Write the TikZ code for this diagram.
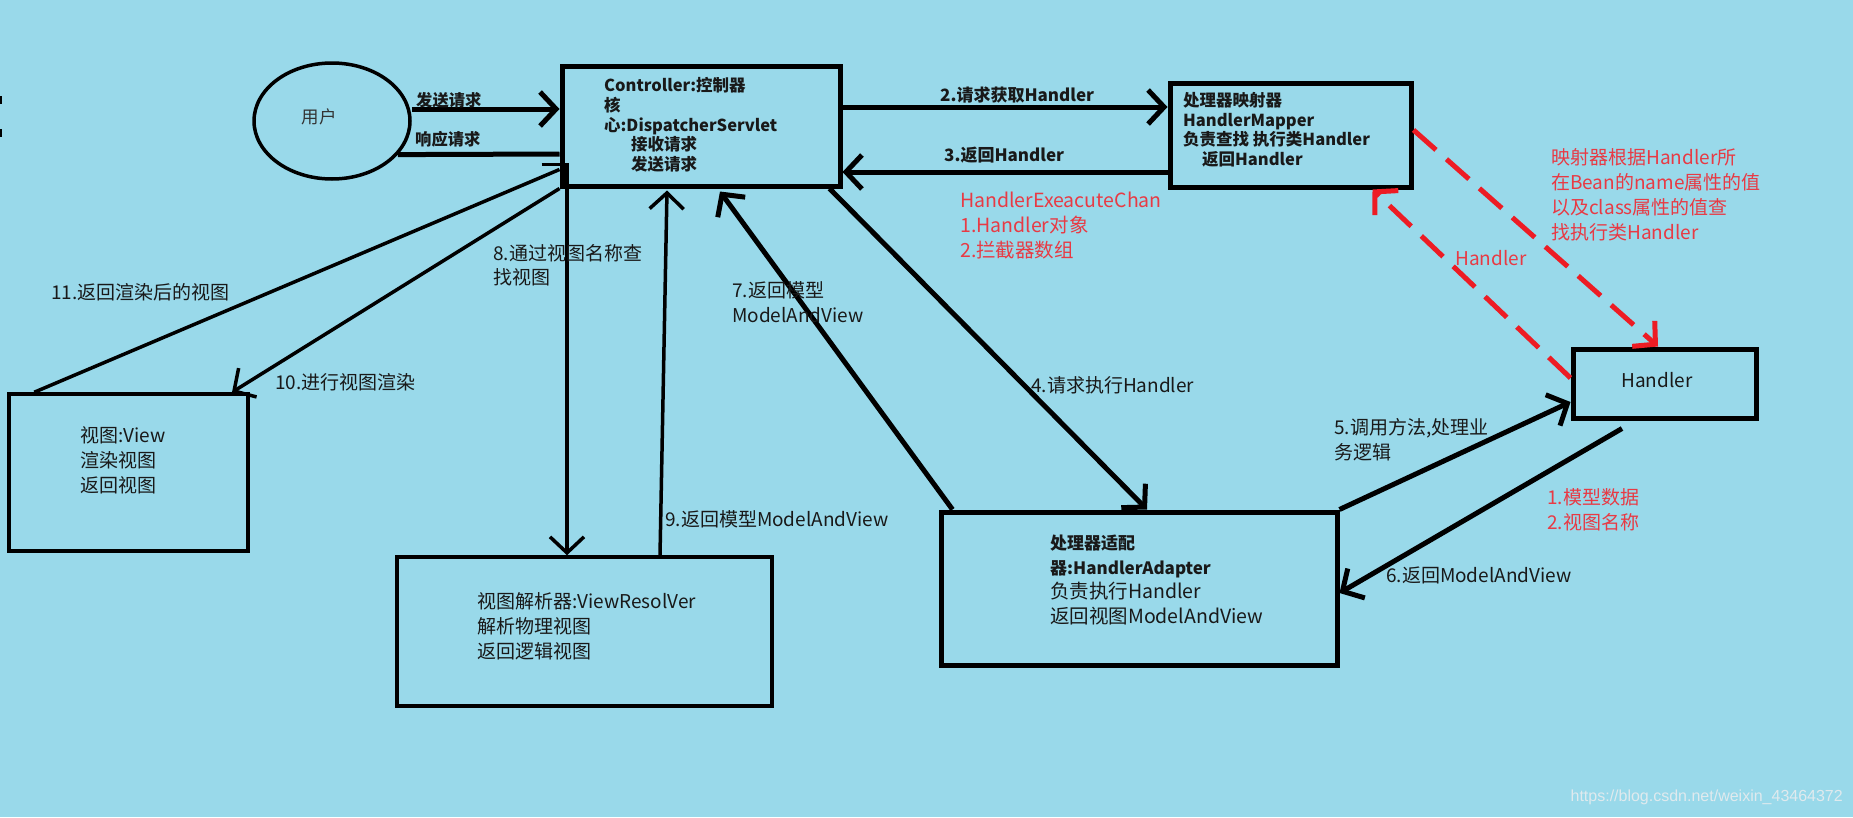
\documentclass[tikz,border=0pt]{standalone}
\usepackage{fontspec}
\setmainfont{Noto Sans CJK SC}
\newfontfamily\wmfont{Liberation Sans}
\usetikzlibrary{shapes.geometric,arrows.meta}
\definecolor{paintblue}{RGB}{153,217,234}
\definecolor{paintred}{RGB}{237,28,36}
\definecolor{notered}{RGB}{232,58,68}
\definecolor{ink}{RGB}{25,25,25}
\definecolor{wmgray}{RGB}{224,234,238}
\newcommand{\reg}{\fontsize{19}{25}\selectfont}
\newcommand{\bld}{\fontsize{16.5}{19.8}\selectfont\bfseries}

\begin{document}
\begin{tikzpicture}[x=1pt, y=-1pt, >={Straight Barb[length=16pt,width=34pt]},
    box/.style={draw, rectangle, inner sep=0pt, line width=#1},
    heavy/.style={line width=5pt},
    light/.style={line width=3.5pt},
    redline/.style={line width=5pt, draw=paintred, dash pattern=on 30pt off 14pt},
    txt/.style={inner sep=0pt, align=left, anchor=north west, text=ink, font=\reg},
    lbl/.style={inner sep=0pt, anchor=west, text=ink, font=\reg}]
    \fill [paintblue] (0,0) rectangle (1853,817) ;
    \useasboundingbox (0,0) rectangle (1853,817) ;
    \fill (0,96) rectangle (2,104) ;
    \fill (0,129) rectangle (2,137) ;

    \node (user) [ellipse, draw, line width=3.5pt, minimum width=156pt, minimum height=116pt, inner sep=0pt] at (332,121) {} ;
    \node (ctrl) [box=5pt, minimum width=278pt, minimum height=120pt] at (701,126) {} ;
    \node (mapper) [box=5pt, minimum width=241pt, minimum height=104pt] at (1290.5,135) {} ;
    \node (handler) [box=5pt, minimum width=183pt, minimum height=69pt] at (1664.5,383.5) {} ;
    \node (adapter) [box=5pt, minimum width=396pt, minimum height=153pt] at (1139,588.5) {} ;
    \node (view) [box=3.5pt, minimum width=239pt, minimum height=157pt] at (128.5,472.5) {} ;
    \node (resolver) [box=3.5pt, minimum width=375pt, minimum height=149pt] at (584.5,631.5) {} ;

    \draw [heavy, ->] ([yshift=12pt]user.east) -- ([yshift=17pt]ctrl.west) ;
    \draw [heavy] (user.-27) -- ([yshift=-28pt]ctrl.west) ;
    \draw [heavy, ->] ([yshift=19pt]ctrl.east) -- ([yshift=28pt]mapper.west) ;
    \draw [heavy, ->] ([yshift=-37pt]mapper.west) -- ([yshift=-46pt]ctrl.east) ;
    \draw [heavy, ->] ([xshift=-13pt]ctrl.south east) -- ([xshift=8pt]adapter.north) ;
    \draw [heavy, ->] (adapter.north east) -- ([yshift=-18.5pt]handler.west) ;
    \draw [heavy, ->] ([xshift=-42.5pt,yshift=-8pt]handler.south) -- ([yshift=-4.5pt]adapter.east) ;
    \draw [heavy, ->] ([xshift=14pt]adapter.north west) -- ([xshift=19pt,yshift=-3pt]ctrl.south) ;
    \draw [light, ->] ([xshift=-18pt,yshift=24pt]ctrl.south west) -| ([xshift=-17.5pt]resolver.north) ;
    \draw [light, ->] ([xshift=75.5pt]resolver.north) -- ([xshift=-34pt,yshift=-2pt]ctrl.south) ;
    \draw [light, ->] (ctrl.south west) -- ([xshift=103.5pt]view.north) ;
    \draw [light] ([xshift=27pt]view.north west) -- ([yshift=19pt]ctrl.south west) ;
    \draw [redline, ->] ([yshift=5pt]mapper.east) -- ([xshift=-6.5pt]handler.north) ;
    \draw [redline, ->] ([yshift=5.5pt]handler.west) -- ([xshift=-41pt]mapper.south east) ;

    \node (usertxt) [lbl, anchor=center, text=black!80, font=\fontsize{17.5}{20}\selectfont] at (319,117) {用户} ;
    \node (ctrltxt) [txt, font=\bld] at (604,77) {Controller:控制器\\核\\心:DispatcherServlet\\\hspace*{27pt}接收请求\\\hspace*{27pt}发送请求} ;
    \node (mappertxt) [txt, font=\bld] at (1183,92) {处理器映射器\\HandlerMapper\\负责查找 执行类Handler\\\hspace*{19pt}返回Handler} ;
    \node (handlertxt) [lbl, anchor=center] at (1657,380) {Handler} ;
    \node (adapterhd) [txt, font=\fontsize{17}{24.3}\selectfont\bfseries] at (1050,535) {处理器适配\\器:HandlerAdapter} ;
    \node (adaptertxt) [txt, font=\fontsize{19.5}{24.5}\selectfont] at (1050,582) {负责执行Handler\\返回视图ModelAndView} ;
    \node (viewtxt) [txt] at (80,426) {视图:View\\渲染视图\\返回视图} ;
    \node (resolvertxt) [txt] at (477,592) {视图解析器:ViewResolVer\\解析物理视图\\返回逻辑视图} ;

    \node (send) [lbl, font=\fontsize{16.3}{20}\selectfont\bfseries] at (416,100) {发送请求} ;
    \node (reply) [lbl, font=\fontsize{16.3}{20}\selectfont\bfseries] at (415,139) {响应请求} ;
    \node (l2) [lbl, font=\fontsize{17}{20}\selectfont\bfseries] at (940,95) {2.请求获取Handler} ;
    \node (l3) [lbl, font=\fontsize{17}{20}\selectfont\bfseries] at (944,155) {3.返回Handler} ;
    \node (chain) [txt, text=notered, font=\fontsize{19.5}{25}\selectfont] at (960,192) {HandlerExeacuteChan\\1.Handler对象\\2.拦截器数组} ;
    \node (l4) [lbl] at (1031,385) {4.请求执行Handler} ;
    \node (l5) [txt] at (1334,418) {5.调用方法,处理业\\务逻辑} ;
    \node (l6) [lbl] at (1386,575) {6.返回ModelAndView} ;
    \node (l7) [txt] at (732,281) {7.返回模型\\ModelAndView} ;
    \node (l8) [txt, font=\fontsize{19}{24}\selectfont] at (493,244) {8.通过视图名称查\\找视图} ;
    \node (l9) [lbl] at (665,519) {9.返回模型ModelAndView} ;
    \node (l10) [lbl] at (275,382) {10.进行视图渲染} ;
    \node (l11) [lbl] at (51,292) {11.返回渲染后的视图} ;
    \node (lookup) [txt, text=notered] at (1551,148) {映射器根据Handler所\\在Bean的name属性的值\\以及class属性的值查\\找执行类Handler} ;
    \node (lh) [lbl, text=notered] at (1455,258) {Handler} ;
    \node (model) [txt, text=notered] at (1547,488) {1.模型数据\\2.视图名称} ;
    \node (mark) [anchor=east, inner sep=0pt, text=wmgray, font=\wmfont\fontsize{16}{18}\selectfont] at (1843,797) {https://blog.csdn.net/weixin\_43464372} ;
\end{tikzpicture}
\end{document}
